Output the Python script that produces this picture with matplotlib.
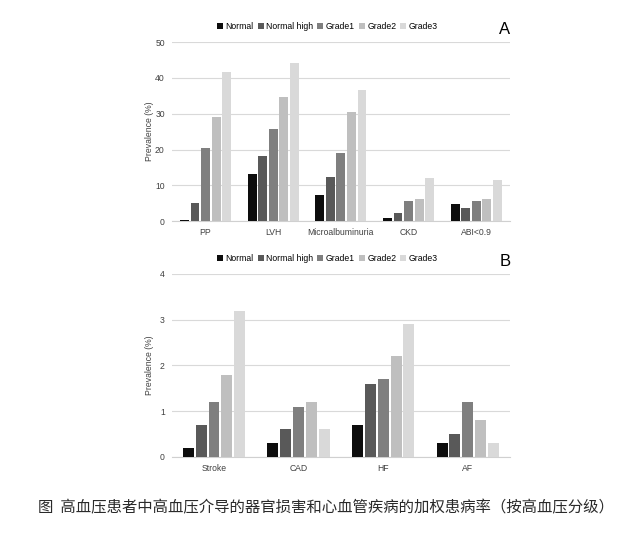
import matplotlib.pyplot as plt
import numpy as np

plt.rcParams['font.family'] = ['Liberation Sans', 'DejaVu Sans']

grades = ['Normal', 'Normal high', 'Grade1', 'Grade2', 'Grade3']
colors = ['#0d0d0d', '#595959', '#7f7f7f', '#bfbfbf', '#d9d9d9']

cats_a = ['PP', 'LVH', 'Microalbuminuria', 'CKD', 'ABI<0.9']
vals_a = [
    [0.3, 13.2, 7.3, 1.0, 4.8],      # Normal
    [5.2, 18.1, 12.4, 2.4, 3.8],     # Normal high
    [20.3, 25.7, 18.9, 5.6, 5.6],    # Grade1
    [29.1, 34.7, 30.5, 6.1, 6.1],    # Grade2
    [41.7, 44.3, 36.6, 12.1, 11.5],  # Grade3
]

cats_b = ['Stroke', 'CAD', 'HF', 'AF']
vals_b = [
    [0.2, 0.3, 0.7, 0.3],
    [0.7, 0.6, 1.6, 0.5],
    [1.2, 1.1, 1.7, 1.2],
    [1.8, 1.2, 2.2, 0.8],
    [3.2, 0.6, 2.9, 0.3],
]

caption = '图  高血压患者中高血压介导的器官损害和心血管疾病的加权患病率（按高血压分级）'


def panel(ax, cats, vals, ymax, step, letter, group_w):
    x = np.arange(len(cats))
    w = group_w / len(vals)
    for i, v in enumerate(vals):
        ax.bar(x - group_w / 2 + w * (i + 0.5), v, width=w * 0.85,
               color=colors[i], label=grades[i], zorder=3)
    ax.set_xlim(-0.5, len(cats) - 0.5)
    ax.set_ylim(0, ymax)
    ax.set_yticks(np.arange(0, ymax + step / 2, step))
    ax.set_xticks(x)
    ax.set_xticklabels(cats)
    ax.yaxis.grid(True, color='#d9d9d9', linewidth=0.8, zorder=0)
    for s in ['top', 'right', 'left']:
        ax.spines[s].set_visible(False)
    ax.spines['bottom'].set_color('#d0d0d0')
    ax.tick_params(axis='both', length=0, labelsize=6.2, colors='#404040', pad=5)
    ax.set_ylabel('Prevalence (%)', fontsize=6.2, color='#404040')
    ax.yaxis.set_label_coords(-0.053, 0.5)
    ax.legend(loc='center', bbox_to_anchor=(0.46, 1.085), ncol=5, frameon=False,
              fontsize=6.2, handlelength=0.7, handleheight=0.7,
              handletextpad=0.3, columnspacing=0.45, borderaxespad=0)
    ax.text(0.985, 1.07, letter, transform=ax.transAxes, fontsize=12,
            ha='center', va='center')


fig = plt.figure(figsize=(6.36, 5.33), dpi=100)
ax_a = fig.add_axes([0.270, 0.585, 0.532, 0.336])
ax_b = fig.add_axes([0.270, 0.143, 0.532, 0.343])

panel(ax_a, cats_a, vals_a, 50, 10, 'A', 0.78)
panel(ax_b, cats_b, vals_b, 4, 1, 'B', 0.76)

fig.text(0.513, 0.047, caption, ha='center', va='center', fontsize=11.1,
         family=['Noto Sans CJK SC', 'DejaVu Sans'], color='#2a2a2a')

fig.savefig('out.png', dpi=100)
